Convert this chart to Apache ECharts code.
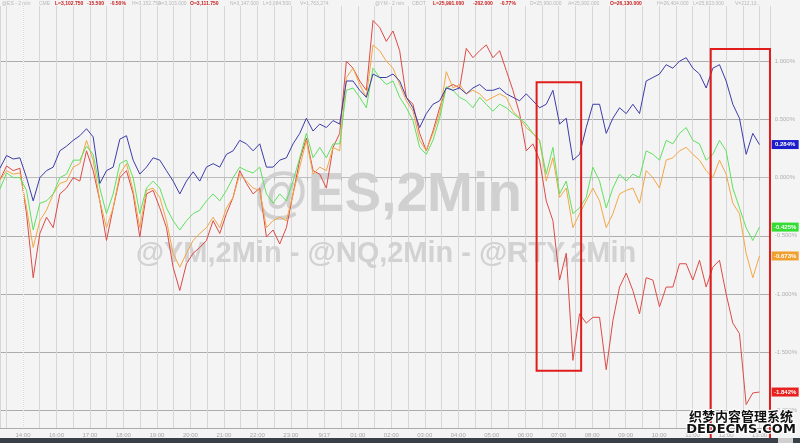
<!DOCTYPE html>
<html><head><meta charset="utf-8">
<script src="https://cdn.jsdelivr.net/npm/echarts@6/dist/echarts.min.js"></script>
<style>html,body{margin:0;padding:0;background:#f4f4f4}#c{width:800px;height:443px}</style>
</head><body><div id="c"></div>
<script>
// ---- tick labels (one per hour mark of the compressed session axis) ----
const hourLabels = ['14:00','16:00','17:00','18:00','19:00','20:00','21:00','22:00','23:00','9/17',
  '01:00','02:00','03:00','04:00','05:00','06:00','07:00','08:00','09:00','10:00','11:00','12:00','13:00'];

// sampling grid of the readings (hours relative to the 14:00 mark)
const START_HOUR = -0.69;
const STEP_HOUR = 0.199;

// ---- series values, % change ----
const es = [0.08,0.19,0.16,0.17,0.00,-0.20,0.00,0.06,0.09,0.23,0.27,0.32,0.36,0.42,0.35,-0.05,0.06,0.09,0.33,0.36,0.15,0.03,0.09,0.17,0.15,0.06,-0.03,-0.14,-0.03,0.05,
  -0.03,0.09,0.12,0.09,0.20,0.23,0.32,0.29,0.23,0.29,0.09,0.09,0.15,0.17,0.29,0.38,0.51,0.40,0.46,0.43,0.49,0.46,0.83,0.83,0.75,0.69,0.89,0.86,0.86,0.89,
  0.83,0.69,0.60,0.43,0.55,0.63,0.66,0.77,0.75,0.77,0.72,0.77,0.80,0.75,0.75,0.77,0.72,0.69,0.66,0.72,0.66,0.60,0.63,0.75,0.46,0.51,0.15,0.20,0.43,0.63,
  0.63,0.38,0.51,0.60,0.55,0.63,0.55,0.83,0.86,0.89,0.97,0.94,1.00,1.03,0.94,0.89,0.77,0.94,0.97,0.83,0.63,0.51,0.20,0.38,0.284];
const ym = [-0.10,0.04,0.00,0.00,-0.11,-0.45,-0.22,-0.20,-0.14,0.00,0.03,0.15,0.15,0.27,0.20,-0.09,-0.31,-0.14,0.12,0.15,0.00,-0.31,-0.09,-0.03,-0.09,-0.26,-0.37,-0.45,-0.37,-0.31,
  -0.28,-0.20,-0.14,-0.20,-0.11,0.00,0.09,0.06,0.04,0.09,-0.14,-0.22,-0.14,-0.20,-0.03,0.17,0.38,0.17,0.26,0.17,0.29,0.29,0.75,0.77,0.69,0.60,0.94,0.86,0.80,0.83,
  0.69,0.60,0.49,0.26,0.20,0.32,0.51,0.78,0.75,0.69,0.66,0.60,0.69,0.63,0.57,0.63,0.60,0.55,0.51,0.46,0.38,0.32,0.03,0.26,-0.14,-0.03,-0.31,-0.26,-0.17,0.09,
  -0.03,-0.26,-0.09,0.03,-0.03,0.03,0.00,0.23,0.20,0.15,0.32,0.29,0.38,0.43,0.32,0.29,0.15,0.20,0.32,0.23,-0.09,-0.26,-0.43,-0.54,-0.425];
const nq = [-0.02,0.06,0.03,0.04,-0.26,-0.60,-0.37,-0.28,-0.14,-0.05,-0.03,0.09,0.12,0.32,0.15,-0.20,-0.43,-0.26,0.03,0.12,-0.11,-0.43,-0.11,-0.09,-0.17,-0.37,-0.65,-0.77,-0.65,-0.54,
  -0.48,-0.43,-0.34,-0.43,-0.26,-0.17,0.03,-0.03,-0.09,-0.11,-0.43,-0.37,-0.34,-0.37,-0.14,0.09,0.32,0.03,0.09,0.06,0.26,0.23,0.86,0.94,0.80,0.69,1.14,1.09,1.00,0.94,
  0.80,0.66,0.57,0.32,0.23,0.38,0.55,0.91,0.77,0.80,0.72,0.75,0.72,0.66,0.69,0.72,0.69,0.57,0.51,0.43,0.38,0.32,-0.03,0.17,-0.17,-0.09,-0.43,-0.31,-0.20,-0.09,
  -0.20,-0.43,-0.31,-0.14,-0.11,-0.09,-0.22,0.06,0.00,-0.09,0.15,0.17,0.23,0.26,0.20,0.15,0.06,0.00,0.15,0.03,-0.22,-0.31,-0.65,-0.86,-0.673];
const rty = [-0.02,0.10,0.06,0.08,-0.31,-0.86,-0.48,-0.34,-0.43,-0.14,-0.09,0.00,-0.03,0.23,0.06,-0.20,-0.54,-0.26,0.00,0.06,-0.14,-0.51,-0.14,-0.11,-0.26,-0.43,-0.77,-0.97,-0.74,-0.65,
  -0.60,-0.54,-0.37,-0.48,-0.31,-0.17,0.06,-0.05,-0.14,-0.09,-0.51,-0.45,-0.57,-0.43,-0.14,0.15,0.34,0.06,0.03,-0.09,0.26,0.38,1.00,0.94,0.83,0.75,1.35,1.29,1.17,1.26,
  1.09,0.69,0.63,0.38,0.23,0.40,0.60,0.77,0.80,0.77,1.11,1.03,1.09,1.14,1.03,1.09,0.92,0.75,0.55,0.23,0.29,0.15,-0.20,-0.37,-0.88,-0.65,-1.57,-1.17,-1.25,-1.20,
  -1.20,-1.65,-1.23,-0.94,-0.82,-0.97,-1.17,-0.86,-0.88,-1.11,-0.94,-0.94,-0.74,-0.74,-0.88,-0.71,-0.94,-0.77,-0.71,-1.00,-1.25,-1.34,-1.95,-1.85,-1.842];

const lastTags = ['0.284%', '-0.425%', '-0.673%', '-1.842%'];
// highlighted windows in data units: [[hourFrom, pctTop], [hourTo, pctBottom]]
const highlightBoxes = [[[15.34, 0.82], [16.67, -1.66]], [[20.54, 1.105], [22.31, -2.6]]];

const X_MIN = -0.6866, X_MAX = 22.33, Y_MIN = -2.151, Y_MAX = 1.517;

const times = es.map((_, i) => +(START_HOUR + i * STEP_HOUR).toFixed(4));
const toPairs = arr => arr.map((v, i) => [times[i], v]);

const defs = [
  {name: '@RTY', data: rty, color: '#dc4a46', tag: '#e8201e'},
  {name: '@NQ', data: nq, color: '#f2a645', tag: '#f0a030'},
  {name: '@YM', data: ym, color: '#5fe05f', tag: '#33dd33'},
  {name: '@ES', data: es, color: '#3c3ca8', tag: '#1c1ccc'}
];

const chart = echarts.init(document.getElementById('c'), null, {renderer: 'canvas'});
chart.setOption({
  backgroundColor: '#f4f4f4',
  animation: false,
  grid: {left: 0, right: 29, top: 0, bottom: 15},
  xAxis: {
    type: 'value', min: X_MIN, max: X_MAX, splitNumber: 46,
    axisLine: {show: true, lineStyle: {color: '#bcbcbc'}},
    axisTick: {show: true, length: 3, lineStyle: {color: '#bcbcbc'}},
    axisLabel: {
      fontSize: 6, color: '#a6a6a6', margin: 4, fontFamily: 'Liberation Sans',
      showMinLabel: false, showMaxLabel: false, interval: 0,
      formatter: v => {
        const r = Math.round(v);
        return Math.abs(v - r) < 1e-6 && hourLabels[r] !== undefined ? hourLabels[r] : '';
      }
    },
    splitLine: {show: true, lineStyle: {color: '#d7d7d7', width: 1}}
  },
  yAxis: {
    type: 'value', position: 'right', min: Y_MIN, max: Y_MAX, splitNumber: 7,
    axisLine: {show: false}, axisTick: {show: false},
    axisLabel: {fontSize: 6, color: '#b0b0b0', margin: 4, fontFamily: 'Liberation Sans',
      showMinLabel: false, showMaxLabel: false,
      formatter: v => v.toFixed(3) + '%'},
    splitLine: {show: true, lineStyle: {color: '#acacac', width: 1}}
  },
  series: defs.map((d, i) => ({
    type: 'line', name: d.name, data: toPairs(d.data), showSymbol: false, symbol: 'none',
    lineStyle: {color: d.color, width: 1}, itemStyle: {color: d.color}, z: 3 + i,
    markLine: i === 0 ? {silent: true, symbol: 'none', label: {show: false},
      lineStyle: {type: 'dotted', color: '#ffffff', width: 1}, data: [{xAxis: 0}]} : undefined
  }))
});

const px = (x, y) => chart.convertToPixel({gridIndex: 0}, [x, y]);
const gridRight = px(X_MAX, 0)[0];

const headerPieces = [
  ['@ES - 2 min', 2, false], ['CME', 39, false], ['L=3,102.750', 55, true], ['-15.500', 87, true],
  ['-0.50%', 110, true], ['H=3,152.750', 132, false], ['A=3,103.000', 158, false], ['O=3,111.750', 190, true],
  ['N=3,147.000', 230, false], ['L=3,084.500', 263, false], ['V=1,763,274', 300, false], ['@YM - 2 min', 375, false],
  ['CBOT', 412, false], ['L=25,991.000', 433, true], ['-202.000', 473, true], ['-0.77%', 500, true],
  ['D=25,990.000', 530, false], ['A=25,992.000', 568, false], ['O=26,130.000', 610, true],
  ['H=26,404.000', 657, false], ['L=25,823.000', 693, false], ['V=212,13...', 735, false]
];

const g = [];
// watermarks
g.push({type: 'text', z: 1, x: 388, y: 196, style: {text: '@ES,2Min', fill: '#d0d0d0',
  font: 'bold 55px "Liberation Sans"', align: 'center', verticalAlign: 'middle'}});
g.push({type: 'text', z: 1, x: 386, y: 254, style: {text: '@YM,2Min - @NQ,2Min - @RTY,2Min', fill: '#d2d2d2',
  font: 'bold 29px "Liberation Sans"', align: 'center', verticalAlign: 'middle'}});
// header band
g.push({type: 'rect', z: 20, shape: {x: 0, y: 0, width: 800, height: 6}, style: {fill: '#f4f4f4'}});
headerPieces.forEach(([t, x, red]) => g.push({type: 'text', z: 21, x: x, y: 3.3, style: {text: t,
  fill: red ? '#c81e1e' : '#b8b8b8', font: (red ? 'bold ' : '') + '5px "Liberation Sans"', verticalAlign: 'middle'}}));
// highlight boxes
highlightBoxes.forEach(([a, b]) => {
  const p1 = px(a[0], a[1]), p2 = px(b[0], b[1]);
  g.push({type: 'rect', z: 30, shape: {x: p1[0], y: p1[1], width: p2[0] - p1[0], height: p2[1] - p1[1]},
    style: {fill: 'none', stroke: '#e01c1c', lineWidth: 2}});
});
// last value tags
defs.forEach((d, i) => {
  const y = px(times[d.data.length - 1], d.data[d.data.length - 1])[1];
  g.push({type: 'rect', z: 31, shape: {x: gridRight + 1, y: y - 4.5, width: 27, height: 9}, style: {fill: d.tag}});
  g.push({type: 'text', z: 32, x: gridRight + 14.5, y: y, style: {text: lastTags[3 - i], fill: '#ffffff',
    font: 'bold 6px "Liberation Sans"', align: 'center', verticalAlign: 'middle'}});
});
// bottom bar
g.push({type: 'rect', z: 40, shape: {x: 0, y: 438, width: 800, height: 5}, style: {fill: '#3a4047'}});
g.push({type: 'rect', z: 41, shape: {x: 778, y: 438, width: 15, height: 5}, style: {fill: '#cfcfcf'}});
// site watermark
g.push({type: 'text', z: 50, x: 741, y: 416, style: {text: '织梦内容管理系统', fill: '#111111', stroke: '#ffffff', lineWidth: 2,
  font: 'bold 13px "Noto Sans CJK SC"', align: 'center', verticalAlign: 'middle'}});
g.push({type: 'text', z: 50, x: 741, y: 430, style: {text: 'DEDECMS.COM', fill: '#111111', stroke: '#ffffff', lineWidth: 2,
  font: 'bold 13px "DejaVu Sans"', align: 'center', verticalAlign: 'middle'}});

chart.setOption({graphic: g});
</script></body></html>
